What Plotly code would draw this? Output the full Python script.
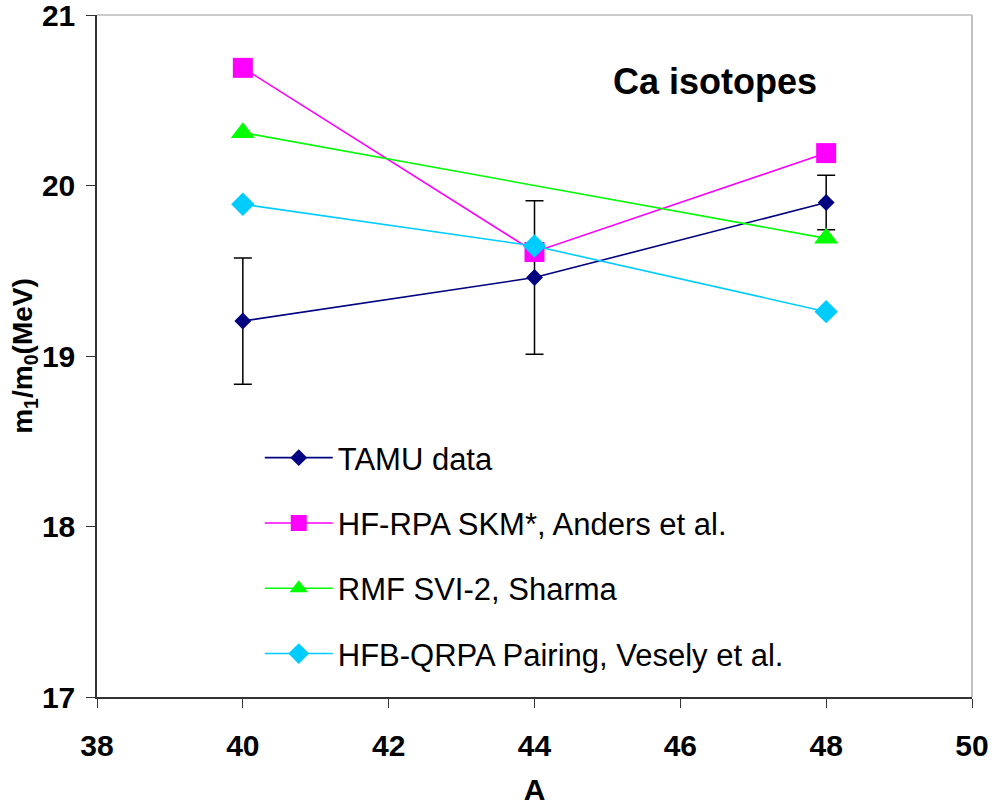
import plotly.graph_objects as go

A = [40, 44, 48]
tamu = [19.205, 19.46, 19.90]
tamu_err = [0.37, 0.45, 0.16]
hf_rpa = [20.69, 19.61, 20.19]
rmf_x = [40, 48]
rmf = [20.31, 19.69]
hfb = [19.89, 19.645, 19.26]

names = ["TAMU data", "HF-RPA SKM*, Anders et al.", "RMF SVI-2, Sharma",
         "HFB-QRPA Pairing, Vesely et al."]

FONT = "Liberation Sans, Arial, sans-serif"

fig = go.Figure()
fig.add_trace(go.Scatter(
    x=A, y=tamu, name=names[0], mode="lines+markers", legendgroup="a",
    line=dict(color="#000080", width=1.6),
    marker=dict(symbol="diamond", size=13, color="#000080"),
    error_y=dict(type="data", array=tamu_err, visible=True, color="black",
                 thickness=1.5, width=9)))
fig.add_trace(go.Scatter(
    x=A, y=hf_rpa, name=names[1], mode="lines+markers", legendgroup="b",
    line=dict(color="#FF00FF", width=1.6),
    marker=dict(symbol="square", size=20, color="#FF00FF")))
fig.add_trace(go.Scatter(
    x=rmf_x, y=rmf, name=names[2], mode="lines+markers", legendgroup="c",
    line=dict(color="#00FF00", width=1.6),
    marker=dict(symbol="triangle-up", size=21, color="#00FF00")))
fig.add_trace(go.Scatter(
    x=A, y=hfb, name=names[3], mode="lines+markers", legendgroup="d",
    line=dict(color="#00CCFF", width=1.6),
    marker=dict(symbol="diamond", size=18, color="#00CCFF")))

fig.update_layout(
    width=995, height=806,
    margin=dict(l=97, r=23, t=15, b=109, autoexpand=False),
    paper_bgcolor="white", plot_bgcolor="white",
    font=dict(family=FONT, color="black"),
    showlegend=True,
    legend=dict(x=0.186, y=0.39, xanchor="left", yanchor="top",
                bgcolor="rgba(0,0,0,0)", borderwidth=0,
                font=dict(family=FONT, size=31, color="black"),
                itemwidth=68, tracegroupgap=22),
    xaxis=dict(range=[38, 50], tickvals=[38, 40, 42, 44, 46, 48, 50],
               showgrid=False, zeroline=False, automargin=False,
               showline=True, linecolor="#333333", linewidth=1.5,
               ticks="outside", ticklen=9, tickcolor="#333333", tickwidth=1.2,
               ticklabelstandoff=12, ticklabeloverflow="allow",
               tickfont=dict(family=FONT, size=30, weight="bold"),
               title=dict(text="A", font=dict(family=FONT, size=30, weight="bold"),
                          standoff=19)),
    yaxis=dict(range=[17, 21], tickvals=[17, 18, 19, 20, 21],
               showgrid=False, zeroline=False, automargin=False,
               showline=True, linecolor="#333333", linewidth=1.5,
               ticks="outside", ticklen=9, tickcolor="#333333", tickwidth=1.2,
               ticklabelstandoff=5, ticklabeloverflow="allow",
               tickfont=dict(family=FONT, size=30, weight="bold"),
               title=dict(text="m<sub>1</sub>/m<sub>0</sub>(MeV)",
                          font=dict(family=FONT, size=28, weight="bold"),
                          standoff=0)),
    shapes=[
        dict(type="line", xref="paper", yref="paper", x0=0, x1=1, y0=1, y1=1,
             line=dict(color="#999999", width=1.2)),
        dict(type="line", xref="paper", yref="paper", x0=1, x1=1, y0=0, y1=1,
             line=dict(color="#999999", width=1.2)),
    ],
    annotations=[dict(text="<b>Ca isotopes</b>", xref="paper", yref="paper",
                      x=0.706, y=0.902, xanchor="center", yanchor="middle",
                      showarrow=False, font=dict(family=FONT, size=36, color="black"))],
)

fig.write_html("out.html", config={"displayModeBar": False},
               post_script="document.body.style.margin='0';")
